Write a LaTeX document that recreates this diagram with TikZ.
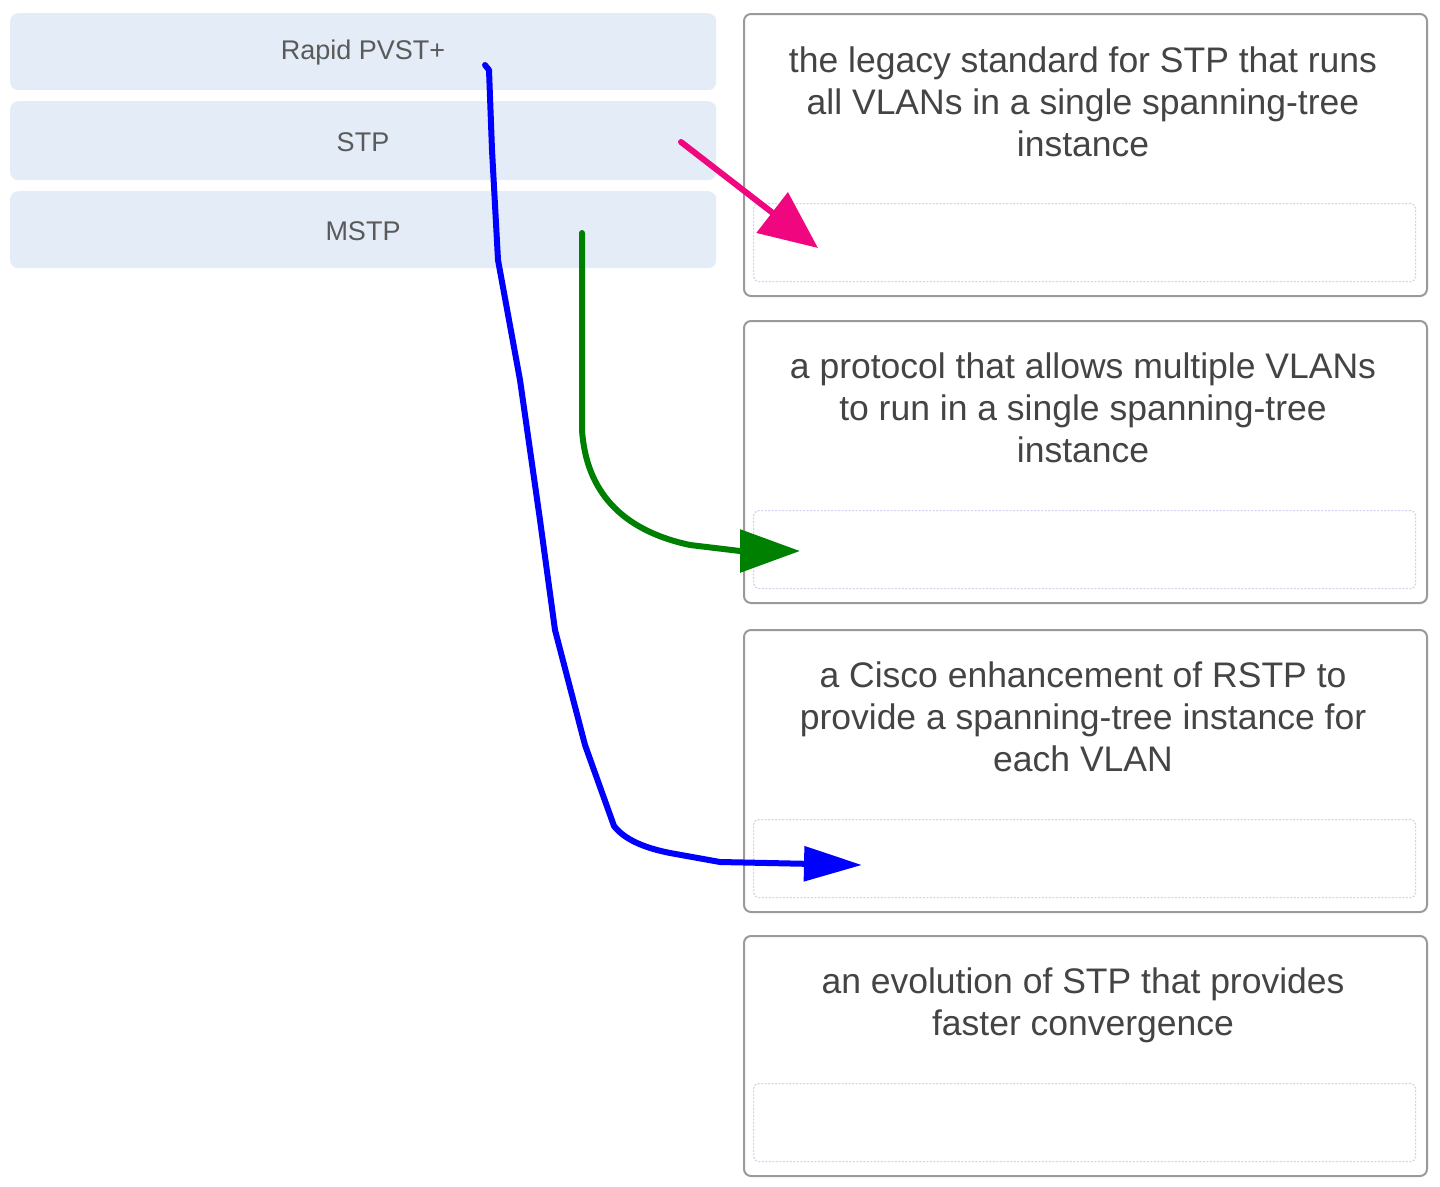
\documentclass[tikz,border=0pt]{standalone}
\usepackage{fontspec}
\setmainfont{Liberation Sans}
\usetikzlibrary{arrows.meta}
\definecolor{lbfill}{HTML}{E4ECF7}
\definecolor{lbtext}{HTML}{5A5A5A}
\definecolor{rbtext}{HTML}{444444}
\definecolor{rbdraw}{HTML}{9A9A9A}
\definecolor{inner}{HTML}{D6CFF0}
\definecolor{pinkarrow}{HTML}{F0067E}
\definecolor{greenarrow}{HTML}{008000}
\definecolor{bluearrow}{HTML}{0000FF}
\tikzset{
  lbox/.style={fill=lbfill, draw=none, rounded corners=8pt, minimum width=706pt, anchor=north west, inner sep=0pt},
  ltext/.style={text=lbtext, font=\fontsize{27}{32}\selectfont},
  rbox/.style={draw=rbdraw, line width=2pt, rounded corners=7pt, fill=white, minimum width=683pt, anchor=north west, inner sep=0pt},
  ibox/.style={draw=inner, line width=1.2pt, dash pattern=on 2pt off 1.5pt, rounded corners=5pt, minimum width=662pt, minimum height=78pt, anchor=north west, inner sep=0pt},
  rtext/.style={text=rbtext, font=\fontsize{35.5}{42}\selectfont, align=center, anchor=north, inner sep=0pt},
  handarrow/.style={line width=6pt, line cap=round, line join=round},
}
\begin{document}
\begin{tikzpicture}[x=1pt,y=-1pt]
\useasboundingbox (0,0) rectangle (1440,1186);
% left boxes
\node[lbox, minimum height=77pt] (l1) at (10,13) {};
\node[lbox, minimum height=79pt] (l2) at (10,101) {};
\node[lbox, minimum height=77pt] (l3) at (10,191) {};
\node[ltext] (t1) at (363,53) {Rapid PVST+};
\node[ltext] (t2) at (363,142) {STP};
\node[ltext] (t3) at (363,231) {MSTP};
% right boxes
\node[rbox, minimum height=282pt] (r1) at (743,13) {};
\node[rbox, minimum height=282pt] (r2) at (743,320) {};
\node[rbox, minimum height=282pt] (r3) at (743,629) {};
\node[rbox, minimum height=240pt] (r4) at (743,935) {};
\node[ibox] (i1) at (753,203) {};
\node[ibox] (i2) at (753,510) {};
\node[ibox] (i3) at (753,819) {};
\node[ibox] (i4) at (753,1083) {};
\node[rtext] (d1) at (1083,47) {the legacy standard for STP that runs\\all VLANs in a single spanning-tree\\instance};
\node[rtext] (d2) at (1083,353) {a protocol that allows multiple VLANs\\to run in a single spanning-tree\\instance};
\node[rtext] (d3) at (1083,662) {a Cisco enhancement of RSTP to\\provide a spanning-tree instance for\\each VLAN};
\node[rtext] (d4) at (1083,968) {an evolution of STP that provides\\faster convergence};
% arrow endpoints
\coordinate (ps) at (681,142);
\coordinate (pe) at (818,248);
\coordinate (gs) at (582,233);
\coordinate (ge) at (800,551);
\coordinate (bs) at (485,65);
\coordinate (be) at (862,865);
% pink
\draw[handarrow, pinkarrow, -{Triangle[length=58pt,width=50pt]}] (ps) -- (pe);
% green
\draw[handarrow, greenarrow, -{Triangle[length=60pt,width=42pt]}] (gs) -- (582,430)
  .. controls (586,490) and (620,530) .. (690,545) -- (740,551) -- (ge);
% blue
\draw[handarrow, bluearrow, -{Triangle[length=58pt,width=34pt]}] (bs) -- (489,70) -- (492,150) -- (498,260)
  -- (520,380) -- (540,520) -- (555,630) -- (585,745) -- (614,826)
  .. controls (625,840) and (645,848) .. (670,853) -- (720,862) -- (be);
\end{tikzpicture}
\end{document}
